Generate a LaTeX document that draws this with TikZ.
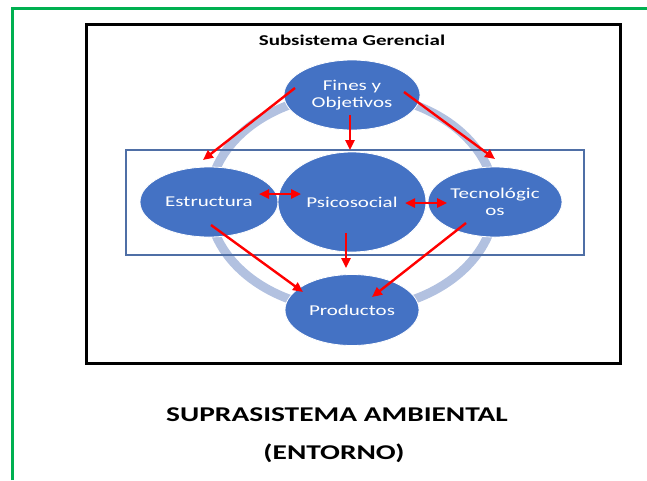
\documentclass[tikz,border=0pt]{standalone}
\usepackage{fontspec}
\setmainfont{Carlito}[FakeStretch=1.4]
\usetikzlibrary{arrows.meta,shapes.geometric}

\definecolor{nodeblue}{RGB}{68,114,196}
\definecolor{ringblue}{RGB}{178,193,224}
\definecolor{boxblue}{RGB}{79,111,166}
\definecolor{framegreen}{RGB}{0,176,80}

\tikzstyle{blob}=[ellipse,draw=white,line width=0.8pt,fill=nodeblue,text=white,inner sep=0pt,align=center,font=\fontsize{15}{17.5}\selectfont]
\tikzstyle{redarrow}=[red,line width=2.4pt,-{Triangle[length=10pt,width=9pt]}]
\tikzstyle{redboth}=[red,line width=2.4pt,{Triangle[length=10pt,width=9pt]}-{Triangle[length=10pt,width=9pt]}]

\begin{document}
\begin{tikzpicture}[x=1pt,y=-1pt]
    \useasboundingbox (0,0) rectangle (647,480);
    % outer frame and box
    \draw[framegreen,line width=3pt] (12,480) -- (12,8) -- (647,8);
    \draw[black,line width=3pt] (86,24) rectangle (620,363);
    \node (title) at (352,40) {\fontsize{15}{18}\selectfont\bfseries Subsistema Gerencial};
    % ring and inner box
    \draw[ringblue,line width=9pt] (352,202) ellipse [x radius=143pt,y radius=108pt];
    \draw[boxblue,line width=1.1pt] (126,150) rectangle (584,255);
    % ellipses
    \node (fines)[blob,minimum width=136pt,minimum height=70pt] at (352,95) {Fines y\\Objetivos};
    \node (estructura)[blob,minimum width=138pt,minimum height=70pt] at (209,202) {Estructura};
    \node (tecno)[blob,minimum width=134pt,minimum height=70pt] at (495,202) {Tecnológic\\os};
    \node (psico)[blob,minimum width=148pt,minimum height=100pt] at (352,202) {Psicosocial};
    \node (productos)[blob,minimum width=134pt,minimum height=71pt] at (352,310) {Productos};
    % arrows
    \draw[redarrow] ([shift={(-57,-7)}]fines.center) -- ([shift={(-6,-42)}]estructura.center);
    \draw[redarrow] ([shift={(52,-3)}]fines.center) -- ([shift={(0,-43)}]tecno.center);
    \draw[redarrow] ([shift={(-2,20)}]fines.center) -- ([shift={(-2,-52)}]psico.center);
    \draw[redboth] ([shift={(50,-8)}]estructura.center) -- ([shift={(-51,-8)}]psico.center);
    \draw[redboth] ([shift={(53,1)}]psico.center) -- ([shift={(-48,1)}]tecno.center);
    \draw[redarrow] ([shift={(-6,31)}]psico.center) -- ([shift={(-6,-42)}]productos.center);
    \draw[redarrow] ([shift={(2,23)}]estructura.center) -- ([shift={(-49,-18)}]productos.center);
    \draw[redarrow] ([shift={(-29,21)}]tecno.center) -- ([shift={(20,-13)}]productos.center);
    % labels below
    \node (supra) at (337,415) {\fontsize{21}{25}\selectfont\bfseries SUPRASISTEMA AMBIENTAL};
    \node (entorno) at (334,453) {\fontsize{21}{25}\selectfont\bfseries (ENTORNO)};
\end{tikzpicture}
\end{document}
